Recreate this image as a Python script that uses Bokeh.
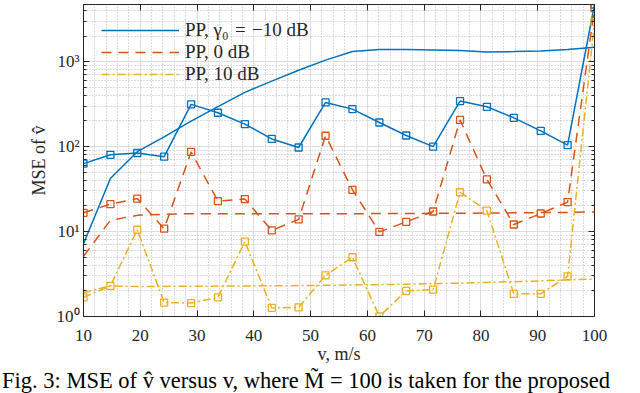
from bokeh.plotting import figure
from bokeh.layouts import column
from bokeh.models import (LogAxis, LinearAxis, Range1d, SingleIntervalTicker, LogTicker,
                          Legend, LegendItem, Div, CustomJSTickFormatter)
from bokeh.embed import file_html
from bokeh.resources import INLINE

# ---- data ----
v = [10, 14.74, 19.47, 24.21, 28.95, 33.68, 38.42, 43.16, 47.89, 52.63,
     57.37, 62.11, 66.84, 71.58, 76.32, 81.05, 85.79, 90.53, 95.26, 100]

pp_m10_mark = [63, 80, 84, 76, 314, 250, 184, 123, 97.5, 331,
               276, 192, 135, 100, 343, 294, 218, 153, 104, 4700]
pp_m10_line = [7.2, 42, 87, 130, 199, 295, 435, 590, 790, 1040,
               1312, 1387, 1387, 1374, 1350, 1301, 1312, 1330, 1387, 1480]

pp_0_mark = [16.6, 21, 24.4, 10.8, 86.5, 22.8, 24.1, 10.3, 13.9, 134,
             31, 9.9, 13, 17.2, 206, 41, 12.1, 16.3, 22.2, 4270]
pp_0_line = [5.1, 13.6, 15.5, 16.0, 16.2, 16.2, 16.2, 16.2, 16.2, 16.2,
             16.2, 16.3, 16.3, 16.4, 16.4, 16.5, 16.6, 16.7, 16.8, 17.0]

pp_10_mark = [1.68, 2.29, 10.5, 1.46, 1.44, 1.68, 7.6, 1.26, 1.28, 3.05,
              4.98, 1.0, 2.0, 2.07, 29, 17.6, 1.85, 1.85, 2.97, 2920]
pp_10_line = [1.9, 2.3, 2.25, 2.26, 2.27, 2.28, 2.29, 2.30, 2.31, 2.33,
              2.35, 2.37, 2.40, 2.43, 2.47, 2.52, 2.57, 2.63, 2.70, 2.76]

legend_labels = ["PP, γ₀\u2004=\u2004−10 dB", "PP, 0 dB", "PP, 10 dB"]
y_ticks = [1, 10, 100, 1000]
y_tick_labels = ["10⁰", "10¹", "10²", "10³"]
x_label = "v, m/s"
y_label = "MSE of v̂"
caption = "Fig. 3: MSE of v̂ versus v, where M̃ = 100 is taken for the proposed"

colors = ["#0072BD", "#D95319", "#EDB120"]
dashes = ["solid", "10 7", "8 3 2 3"]
FONT = "Liberation Serif"
TXT = "#262626"

fig = figure(width=624, height=371, x_range=Range1d(10, 100), y_range=Range1d(1, 4700),
             y_axis_type="log", output_backend="svg", toolbar_location=None,
             min_border_left=83, min_border_right=30, min_border_top=0, min_border_bottom=55,
             background_fill_color="white", border_fill_color="white")

fig.outline_line_color = TXT
fig.outline_line_width = 1

xt = SingleIntervalTicker(interval=10, num_minor_ticks=5)
yt = LogTicker(num_minor_ticks=10)
fig.xaxis.ticker = xt
fig.yaxis.ticker = yt
fig.yaxis.major_label_overrides = dict(zip(y_ticks, y_tick_labels))

for ax in (fig.xaxis[0], fig.yaxis[0]):
    ax.axis_line_color = TXT
    ax.major_tick_in = 6
    ax.major_tick_out = 0
    ax.minor_tick_in = 3
    ax.minor_tick_out = 0
    ax.major_tick_line_color = TXT
    ax.minor_tick_line_color = TXT
    ax.major_label_text_font = FONT
    ax.major_label_text_font_size = "17px"
    ax.major_label_text_color = TXT
    ax.axis_label_text_font = FONT
    ax.axis_label_text_font_size = "18px"
    ax.axis_label_text_font_style = "normal"
    ax.axis_label_text_color = TXT
fig.xaxis.minor_tick_line_color = None
fig.xaxis.axis_label = x_label
fig.yaxis.axis_label = y_label
fig.xaxis.major_label_standoff = 13
fig.xaxis.axis_label_standoff = 0
fig.yaxis.major_label_standoff = 4
fig.yaxis.axis_label_standoff = 5

blank = CustomJSTickFormatter(code="return ''")
right = LogAxis(ticker=yt, formatter=blank, axis_line_color=TXT, major_tick_in=6, major_tick_out=0,
                minor_tick_in=3, minor_tick_out=0, major_tick_line_color=TXT,
                minor_tick_line_color=TXT, major_label_standoff=0)
top = LinearAxis(ticker=xt, formatter=blank, axis_line_color=TXT, major_tick_in=6, major_tick_out=0,
                 minor_tick_line_color=None, major_tick_line_color=TXT, major_label_standoff=0)
fig.add_layout(right, "right")
fig.add_layout(top, "above")

for g in (fig.xgrid[0], fig.ygrid[0]):
    g.grid_line_color = "#dedede"
    g.grid_line_width = 1
    g.minor_grid_line_color = "#b8b8b8"
    g.minor_grid_line_dash = "1 2"
    g.minor_grid_line_width = 1

# one legend per row so the row pitch matches the reference
legend_y = [275, 253, 231]
series = [(pp_m10_line, pp_m10_mark), (pp_0_line, pp_0_mark), (pp_10_line, pp_10_mark)]
for (ln, mk), c, d, lab, ly in zip(series, colors, dashes, legend_labels, legend_y):
    r = fig.line(v, ln, line_color=c, line_width=1.5, line_dash=d)
    fig.line(v, mk, line_color=c, line_width=1.5, line_dash=d)
    fig.scatter(v, mk, marker="square", size=7, line_color=c, line_width=1.3, fill_color=None)
    leg = Legend(items=[LegendItem(label=lab, renderers=[r])], location=(18, ly),
                 label_text_font=FONT, label_text_font_size="19px", label_text_color=TXT,
                 glyph_width=78, glyph_height=20, label_height=20, spacing=0, padding=8,
                 margin=0, label_standoff=6, border_line_color=None, background_fill_alpha=0.0)
    fig.add_layout(leg, "center")

cap = Div(text='<div style="font-family: \'Liberation Serif\'; font-size: 22.5px; line-height: 20px; '
               'white-space: nowrap; color: black; padding-left: 2px;">' + caption + '</div>',
          width=624, height=22, margin=0)

p = column(fig, cap, spacing=0)
open("out.html", "w").write(file_html(p, INLINE))
